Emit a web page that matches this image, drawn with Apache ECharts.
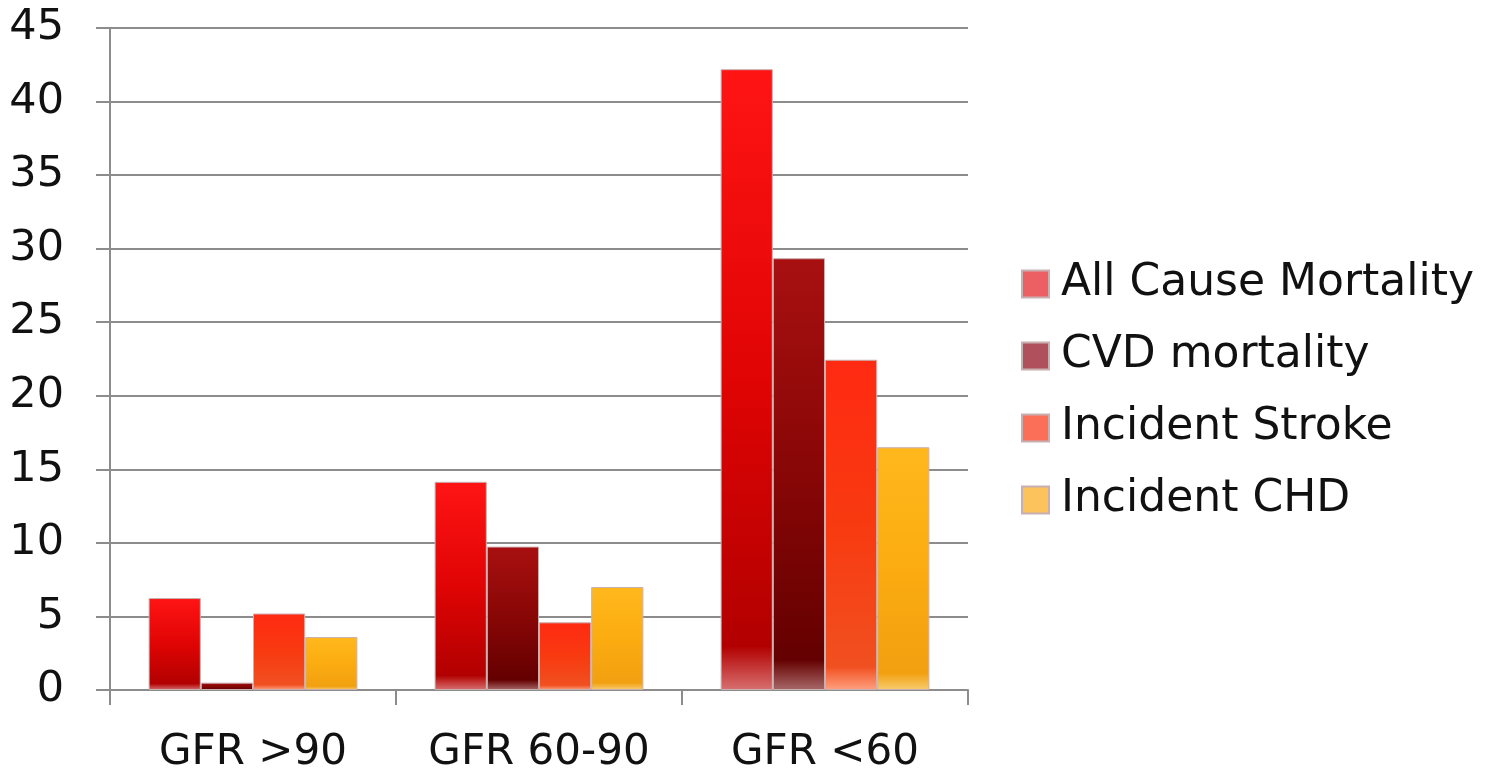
<!DOCTYPE html>
<html>
<head>
<meta charset="utf-8">
<script src="https://cdn.jsdelivr.net/npm/echarts@6/dist/echarts.min.js"></script>
<style>
html,body{margin:0;padding:0;background:#fff;}
#main{width:1503px;height:774px;}
</style>
</head>
<body>
<div id="main"></div>
<script>
var categories=["GFR >90","GFR 60-90","GFR <60"];
var allCause=[6.25,14.15,42.2];
var cvdMort=[0.5,9.75,29.35];
var incStroke=[5.2,4.6,22.45];
var incCHD=[3.6,7.0,16.5];
var seriesNames=["All Cause Mortality","CVD mortality","Incident Stroke","Incident CHD"];

var grey="#8c8c8c";
var fontName="'DejaVu Sans', sans-serif";

// vertical gradient for each bar, bright top, darker body, washed bottom edge
var grad=function(c1,c2,c3,c4){
  return new echarts.graphic.LinearGradient(0,0,0,1,[
    {offset:0,color:c1},
    {offset:0.5,color:c2},
    {offset:0.93,color:c3},
    {offset:1,color:c4}
  ]);
}

var myChart=echarts.init(document.getElementById('main'));

var mkSeries=function(name,data,fill){
  return {
    name:name,
    type:'bar',
    barGap:'0%',
    barCategoryGap:'27%',
    data:data,
    itemStyle:{color:fill,borderColor:'#c8b0b0',borderWidth:1}
  };
}

var options={
  animation:false,
  grid:{left:110,right:535,top:28,bottom:84},
  legend:{
    orient:'vertical',
    left:1016,
    top:254,
    icon:'rect',
    itemWidth:27,
    itemHeight:27,
    itemGap:22,
    textStyle:{fontFamily:fontName,fontSize:44,color:'#111',lineHeight:50,padding:[0,0,0,7]},
    data:[
      {name:seriesNames[0],itemStyle:{color:'#ec6064'}},
      {name:seriesNames[1],itemStyle:{color:'#b0505c'}},
      {name:seriesNames[2],itemStyle:{color:'#fb6e58'}},
      {name:seriesNames[3],itemStyle:{color:'#fcc25c'}}
    ]
  },
  xAxis:{
    type:'category',
    data:categories,
    axisLine:{show:true,lineStyle:{color:grey,width:2}},
    axisTick:{show:true,interval:0,length:15,lineStyle:{color:grey,width:2}},
    axisLabel:{interval:0,fontFamily:fontName,fontSize:42,color:'#111',margin:42}
  },
  yAxis:{
    type:'value',
    min:0,
    max:45,
    interval:5,
    axisLine:{show:true,lineStyle:{color:grey,width:2}},
    axisTick:{show:true,length:14,lineStyle:{color:grey,width:2}},
    axisLabel:{fontFamily:fontName,fontSize:43,color:'#111',margin:46},
    splitLine:{lineStyle:{color:grey,width:2}}
  },
  series:[
    mkSeries(seriesNames[0],allCause,grad('#ff1414','#e00404','#b20000','#d87070')),
    mkSeries(seriesNames[1],cvdMort,grad('#a81010','#880606','#640000','#a86868')),
    mkSeries(seriesNames[2],incStroke,grad('#ff2a12','#f83a10','#f05020','#ffa080')),
    mkSeries(seriesNames[3],incCHD,grad('#ffb81c','#fbac10','#f2a010','#f8cc70'))
  ]
};

myChart.setOption(options);
</script>
</body>
</html>
